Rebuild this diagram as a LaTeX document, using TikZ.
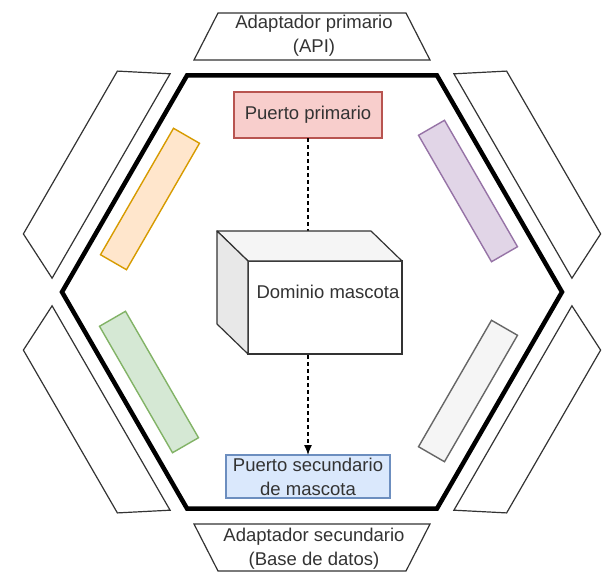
\documentclass[tikz,border=0pt]{standalone}
\usepackage{fontspec}
\setmainfont{Liberation Sans}
\usetikzlibrary{arrows.meta}
\definecolor{ppfill}{HTML}{F8CECC}
\definecolor{ppdraw}{HTML}{B85450}
\definecolor{psfill}{HTML}{DAE8FC}
\definecolor{psdraw}{HTML}{6C8EBF}
\definecolor{orfill}{HTML}{FFE6CC}
\definecolor{ordraw}{HTML}{D79B00}
\definecolor{pufill}{HTML}{E1D5E7}
\definecolor{pudraw}{HTML}{9673A6}
\definecolor{grfill}{HTML}{D5E8D4}
\definecolor{grdraw}{HTML}{82B366}
\definecolor{gyfill}{HTML}{F5F5F5}
\definecolor{gydraw}{HTML}{666666}
\definecolor{txt}{HTML}{333333}

\begin{document}
\begin{tikzpicture}[x=1pt, y=-1pt,
    every node/.style={font=\fontsize{18.5}{24}\selectfont, text=txt},
    port/.style={draw, line width=1.4pt, minimum width=30pt, minimum height=146pt, inner sep=0pt},
    adapter/.style={draw=txt, line width=1.2pt, fill=white},
    box/.style={draw, line width=1.2pt, align=center, inner sep=0pt, outer sep=0pt}]
  \useasboundingbox[fill=white] (0,0) rectangle (608,576);
  % hexagon
  \draw[line width=4.5pt, shift={(312,292)}]
    (0:250) -- (60:250) -- (120:250) -- (180:250) -- (240:250) -- (300:250) -- cycle;
  % adapters
  \foreach \a in {0,60,...,300}
    \draw[adapter, shift={(312,292)}, rotate=\a]
      (-94,-279) -- (94,-279) -- (118,-232) -- (-118,-232) -- cycle;
  \node[align=center] (adp) at (314,36) {Adaptador primario\\(API)};
  \node[align=center] (ads) at (314,549) {Adaptador secundario\\(Base de datos)};
  % ports
  \node[port, draw=ordraw, fill=orfill, rotate=-30] (por) at (150,199) {};
  \node[port, draw=pudraw, fill=pufill, rotate=30] (ppu) at (468,191) {};
  \node[port, draw=grdraw, fill=grfill, rotate=30] (pgr) at (149,382) {};
  \node[port, draw=gydraw, fill=gyfill, rotate=-30] (pgy) at (468,391) {};
  % primary and secondary port
  \node[box, draw=ppdraw, fill=ppfill, minimum width=148pt, minimum height=46pt] (pp) at (308,115) {Puerto primario};
  \node[box, draw=psdraw, fill=psfill, minimum width=164pt, minimum height=43pt] (ps) at (308,476.5) {Puerto secundario\\de mascota};
  \path[draw=black, line width=1.3pt, dash pattern=on 4pt off 3pt, -{Latex[length=10pt, width=8pt]}]
    (pp) edge node {} (ps);
  % domain cube
  \node[box, draw=txt, fill=white, minimum width=154pt, minimum height=93pt] (dom) at (325,307.5) {};
  \draw[draw=txt, line width=1.2pt, fill=gyfill, line join=round]
    (dom.north west) -- ++(-31,-30) -- ++(154,0) -- (dom.north east) -- cycle;
  \draw[draw=txt, line width=1.2pt, fill=black!9, line join=round]
    (dom.north west) -- ++(-31,-30) -- ++(0,93) -- (dom.south west) -- cycle;
  \node (domtext) at (328,292) {Dominio mascota};
\end{tikzpicture}
\end{document}
